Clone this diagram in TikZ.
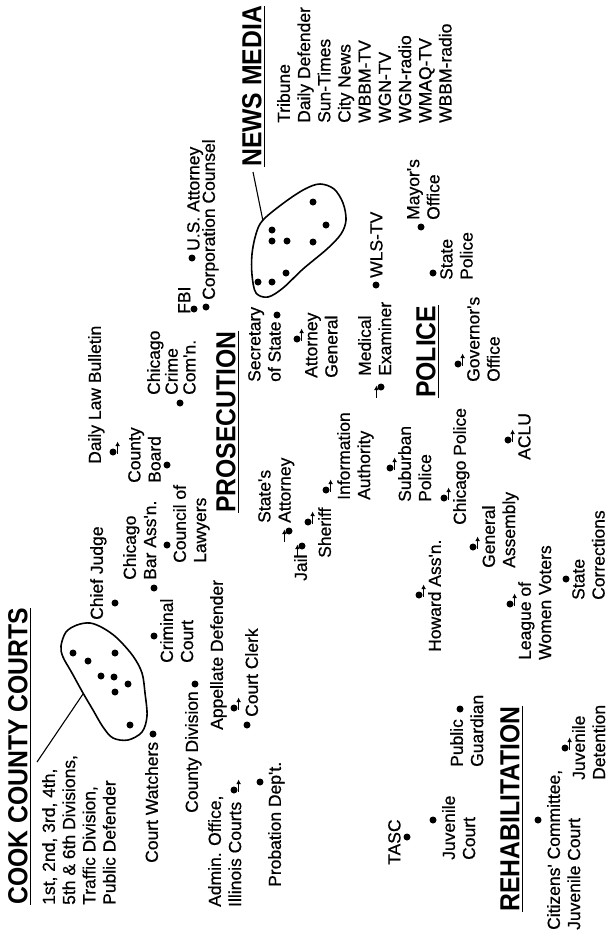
\documentclass[tikz,border=0pt]{standalone}
\usepackage{fontspec}
\setmainfont{Liberation Sans}
\newfontfamily\bodyfam{Liberation Sans}[FakeBold=0.6]
\newfontfamily\headfam{Liberation Sans Bold}[FakeStretch=0.9]
\usetikzlibrary{arrows.meta}
\newcommand\bodyf{\bodyfam\fontsize{17.5}{20.2}\selectfont}
\newcommand\headf{\headfam\fontsize{27.5}{30}\selectfont}
% dot followed by arrow to its upper right
\newcommand\symA[2]{%
  \node[dotn] (#1) at (#2) {};
  \draw[smallarr] ([shift={(4.6,1.5)}]#1.center) -- ([shift={(4.6,-10.5)}]#1.center);}
% arrow to the lower left of the dot
\newcommand\symB[2]{%
  \node[dotn] (#1) at (#2) {};
  \draw[smallarr] ([shift={(-4.6,10.5)}]#1.center) -- ([shift={(-4.6,-1.5)}]#1.center);}
\newcommand\hdline[1]{\draw[ulline] ([xshift=2.6pt]#1.south west) -- ([xshift=2.6pt]#1.south east);}
\begin{document}
\begin{tikzpicture}[x=1pt,y=-1pt,
  txt/.style={rotate=90,anchor=north west,inner sep=0pt,align=left,font=\bodyf},
  hd/.style={rotate=90,anchor=north west,inner sep=0pt,font=\headf},
  dotn/.style={circle,fill=black,inner sep=0pt,minimum size=7pt},
  smallarr/.style={-{Latex[length=4.5pt,width=4.8pt]},line width=1.4pt},
  ulline/.style={line width=1.9pt},
  blobline/.style={line width=1.6pt},
  conn/.style={line width=1.1pt}]
\useasboundingbox[fill=white] (0,0) rectangle (607,942);

% ---------- headings ----------
\node[hd] (hcook) at (8,905) {COOK COUNTY COURTS}; \hdline{hcook}
\node[hd] (hnews) at (242,167) {NEWS MEDIA}; \hdline{hnews}
\node[hd] (hpros) at (216,513) {PROSECUTION}; \hdline{hpros}
\node[hd] (hpol) at (416,398) {POLICE}; \hdline{hpol}
\node[hd] (hrehab) at (500,912) {REHABILITATION}; \hdline{hrehab}

% ---------- Cook County Courts ----------
\node[txt] (divs) at (42,905) {1st, 2nd, 3rd, 4th,\\5th \& 6th Divisions,\\Traffic Division,\\Public Defender};
\draw[blobline] plot[smooth cycle,tension=0.55] coordinates {(63,657) (61,646) (66,632) (77,625) (90,623) (103,628) (117,638) (133,656) (142,673) (145,693) (147,716) (142,732) (128,740) (113,738) (103,727) (93,710) (83,693) (72,673)};
\foreach \p in {(73,653),(88,661),(115,653),(101,676),(114,677),(128,684),(115,692),(130,725)} \fill \p circle (3.5);
\coordinate (cookA) at (37,762);
\coordinate (cookB) at (83,694);
\draw[conn] (cookA) -- (cookB);

\node[txt] (watchers) at (145,863) {Court Watchers};
\node[dotn] (dwatchers) at (153,734) {};
\node[txt] (countydiv) at (185,813) {County Division};
\node[dotn] (dcountydiv) at (195,684) {};
\node[txt] (admin) at (208,907) {Admin. Office,\\Illinois Courts};
\symA{sadmin}{234,790}
\node[txt] (appellate) at (210,730) {Appellate Defender};
\symA{sappellate}{234,708}
\node[txt] (clerk) at (245,717) {Court Clerk};
\node[dotn] (dclerk) at (247,725) {};
\node[txt] (probation) at (268,887) {Probation Dep't.};
\node[dotn] (dprobation) at (260,782) {};
\node[txt] (criminal) at (160,663) {Criminal\\Court};
\node[dotn] (dcriminal) at (154,636) {};
\node[txt] (chief) at (90,620) {Chief Judge};
\node[dotn] (dchief) at (115,603) {};
\node[txt] (cba) at (123,580) {Chicago\\Bar Ass'n.};
\node[dotn] (dcba) at (154,588) {};
\node[txt] (council) at (173,563) {Council of\\Lawyers};
\node[dotn] (dcouncil) at (167,545) {};
\node[txt] (cboard) at (128,483) {County\\Board};
\node[dotn] (dcboard) at (167,465) {};
\node[txt] (dlb) at (88,464) {Daily Law Bulletin};
\symA{sdlb}{113,452}
\node[txt,font=\bodyfam\fontsize{17.5}{17.8}\selectfont] (ccc) at (147,395) {Chicago\\Crime\\Com'n.};
\node[dotn] (dccc) at (180,403) {};

% ---------- Prosecution ----------
\node[txt] (fbi) at (178,314) {FBI};
\node[dotn] (dfbi) at (194,309) {};
\node[txt] (usatty) at (187,251) {U.S. Attorney};
\node[dotn] (dusatty) at (192,258) {};
\node[txt] (corp) at (202,300) {Corporation Counsel};
\node[dotn] (dcorp) at (206,307) {};
\node[txt] (secretary) at (248,382) {Secretary\\of State};
\node[dotn] (dsecretary) at (277,315) {};
\node[txt] (attygen) at (305,378) {Attorney\\General};
\symA{sattygen}{297,339}
\node[txt] (medical) at (358,376) {Medical\\Examiner};
\symB{smedical}{381,387}
\node[txt] (statesatty) at (258,523) {State's\\Attorney};
\symB{sstatesatty}{289,531}
\node[txt] (jail) at (294,581) {Jail};
\symB{sjail}{302,546}
\node[txt] (sheriff) at (318,558) {Sheriff};
\symA{ssheriff}{308,522}
\node[txt] (info) at (337,500) {Information\\Authority};
\symA{sinfo}{326,490}

% ---------- Police ----------
\node[txt] (governor) at (467,382) {Governor's\\Office};
\symA{sgovernor}{458,364}
\node[txt] (suburban) at (398,502) {Suburban\\Police};
\symA{ssuburban}{390,468}
\node[txt] (chipolice) at (453,525) {Chicago Police};
\symA{schipolice}{444,498}
\node[txt] (aclu) at (518,460) {ACLU};
\symA{saclu}{508,440}
\node[txt] (howard) at (428,652) {Howard Ass'n.};
\symA{showard}{419,595}
\node[txt] (general) at (482,568) {General\\Assembly};
\symA{sgeneral}{473,547}
\node[txt] (league) at (518,660) {League of\\Women Voters};
\symA{sleague}{510,604}
\node[txt] (statecorr) at (572,600) {State\\Corrections};
\node[dotn] (dstatecorr) at (566,579) {};

% ---------- Rehabilitation ----------
\node[txt] (tasc) at (388,865) {TASC};
\node[dotn] (dtasc) at (407,837) {};
\node[txt] (juvcourt) at (442,860) {Juvenile\\Court};
\node[dotn] (djuvcourt) at (433,820) {};
\node[txt] (publicg) at (450,767) {Public\\Guardian};
\node[dotn] (dpublicg) at (460,709) {};
\node[txt] (citizens) at (547,930) {Citizens' Committee,\\Juvenile Court};
\node[dotn] (dcitizens) at (538,820) {};
\node[txt] (juvdet) at (572,780) {Juvenile\\Detention};
\symA{sjuvdet}{565,748}

% ---------- News media ----------
\node[txt] (media) at (277,123) {Tribune\\Daily Defender\\Sun-Times\\City News\\WBBM-TV\\WGN-TV\\WGN-radio\\WMAQ-TV\\WBBM-radio};
\draw[blobline] plot[smooth cycle,tension=0.55] coordinates {(263,220) (285,202) (305,189) (320,184) (334,189) (343,203) (346,220) (341,234) (327,249) (303,269) (283,288) (268,297) (256,293) (252,275) (252,254) (256,234)};
\foreach \p in {(272,230),(272,241),(287,241),(313,202),(326,225),(313,242),(258,282),(272,282),(286,273)} \fill \p circle (3.5);
\coordinate (newsA) at (253,172);
\coordinate (newsB) at (263,221);
\draw[conn] (newsA) -- (newsB);
\node[txt] (wls) at (370,278) {WLS-TV};
\node[dotn] (dwls) at (376,285) {};
\node[txt] (mayor) at (407,220) {Mayor's\\Office};
\node[dotn] (dmayor) at (421,227) {};
\node[txt] (statepol) at (440,280) {State\\Police};
\node[dotn] (dstatepol) at (433,273) {};
\end{tikzpicture}
\end{document}
